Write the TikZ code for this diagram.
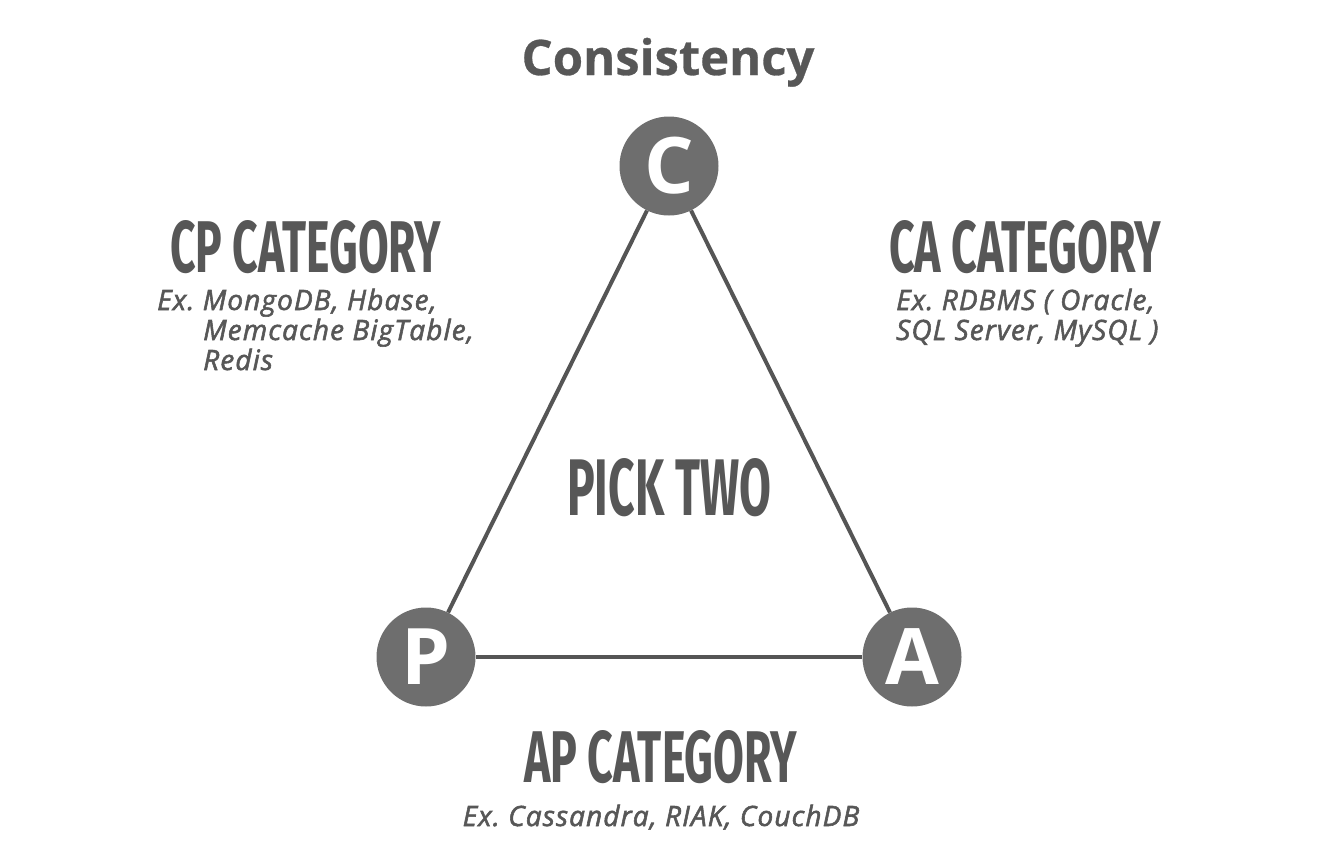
\documentclass[tikz,border=0pt]{standalone}
\usepackage{fontspec}
\usepackage{graphicx}
\setmainfont{Open Sans}
\newfontfamily\condfont{Fira Sans}
\newfontfamily\exfont{Open Sans}[FakeBold=2,LetterSpace=4]
\newfontfamily\headfont{Open Sans}[FakeBold=0.6]
\definecolor{txt}{HTML}{575757}
\definecolor{circ}{HTML}{6E6E6E}
\definecolor{edge}{HTML}{555555}
\begin{document}
\begin{tikzpicture}[x=1pt,y=-1pt,
  vertex/.style={circle, fill=circ, minimum size=99pt, inner sep=0pt, text=white,
    font=\fontsize{78}{78}\selectfont\bfseries},
  heading/.style={font=\headfont\fontsize{49}{49}\selectfont\bfseries, text=txt, inner sep=0pt},
  cat/.style={text=txt, inner sep=0pt, anchor=north west},
  ex/.style={font=\exfont\fontsize{28}{30}\selectfont\itshape, text=txt, inner sep=0pt, anchor=base west},
  link/.style={draw=edge, line width=4pt}]
\useasboundingbox (0,0) rectangle (1322,854);
\node[heading, anchor=base] (title) at (668,75) {Consistency};
\node[vertex] (C) at (669,166) {C};
\node[vertex] (P) at (426,657) {P};
\node[vertex] (A) at (912,657) {A};
\draw[link] (C) -- (P);
\draw[link] (C) -- (A);
\draw[link] (P) -- (A);
\node[cat] (cp) at (170,220) {\resizebox{271pt}{52pt}{\condfont\bfseries CP CATEGORY}};
\node[cat] (ca) at (889,220) {\resizebox{272pt}{52pt}{\condfont\bfseries CA CATEGORY}};
\node[cat] (pick) at (567,458) {\resizebox{204pt}{57pt}{\condfont\bfseries PICK TWO}};
\node[cat] (ap) at (524,730) {\resizebox{273pt}{52pt}{\condfont\bfseries AP CATEGORY}};
\node[ex] (cpex1) at (157,310) {Ex.\ MongoDB, Hbase,};
\node[ex] (cpex2) at (203,340) {Memcache BigTable,};
\node[ex] (cpex3) at (203,370) {Redis};
\node[ex] (caex1) at (896,310) {Ex.\ RDBMS ( Oracle,};
\node[ex] (caex2) at (896,340) {SQL Server, MySQL )};
\node[ex, anchor=base] (apex) at (661,826) {Ex.\ Cassandra, RIAK, CouchDB};
\end{tikzpicture}
\end{document}
